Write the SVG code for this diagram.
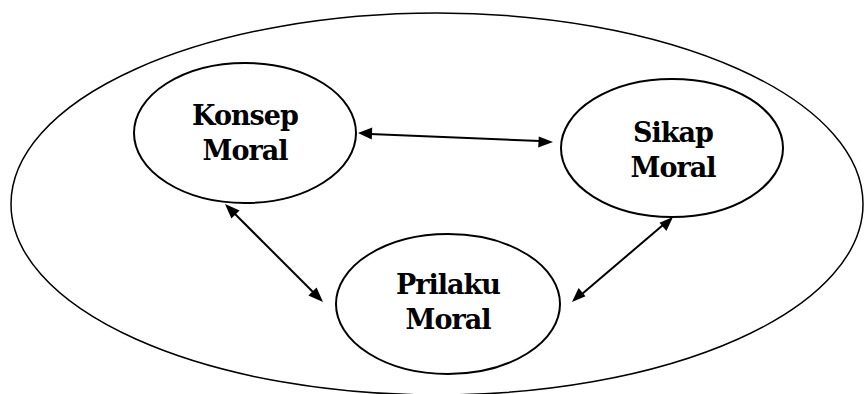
<svg xmlns="http://www.w3.org/2000/svg" width="865" height="394" viewBox="0 0 865 394">
<defs>
<style>
.node{fill:#fff;stroke:#000;stroke-width:2}
.outer{fill:none;stroke:#000;stroke-width:1.5}
.lbl{font-family:"DejaVu Serif",serif;font-weight:bold;font-size:27px;fill:#000;text-anchor:middle;letter-spacing:-1px}
.conn{stroke:#000;stroke-width:2;fill:none}
.head{fill:#000}
</style>
</defs>
<rect width="865" height="394" fill="#fff"/>
<g id="outer"><ellipse class="outer" cx="437" cy="204" rx="426" ry="191"/></g>
<g id="konsep">
<ellipse class="node" cx="245" cy="133" rx="111" ry="70"/>
<text class="lbl" x="245" y="125">Konsep</text>
<text class="lbl" x="245" y="160">Moral</text>
</g>
<g id="sikap">
<ellipse class="node" cx="672" cy="148" rx="111" ry="69"/>
<text class="lbl" x="673" y="142">Sikap</text>
<text class="lbl" x="673" y="177">Moral</text>
</g>
<g id="prilaku">
<ellipse class="node" cx="448" cy="304" rx="112" ry="70"/>
<text class="lbl" x="448" y="294">Prilaku</text>
<text class="lbl" x="448" y="329">Moral</text>
</g>
<g id="connectors">
<line class="conn" x1="370" y1="134" x2="540" y2="141"/>
<polygon class="head" points="358,133 372.2,127.6 371.8,139.6"/>
<polygon class="head" points="553,142 538.8,136.4 538.2,147.4"/>
<line class="conn" x1="234" y1="213" x2="314" y2="293"/>
<polygon class="head" points="225,204 239.6,210.4 231.4,218.6"/>
<polygon class="head" points="323,302 308.4,295.6 316.6,287.4"/>
<line class="conn" x1="663" y1="225" x2="582" y2="294"/>
<polygon class="head" points="673,217 666.4,231.0 659.5,222.8"/>
<polygon class="head" points="572,302 578.6,288.0 585.5,296.2"/>
</g>
</svg>
